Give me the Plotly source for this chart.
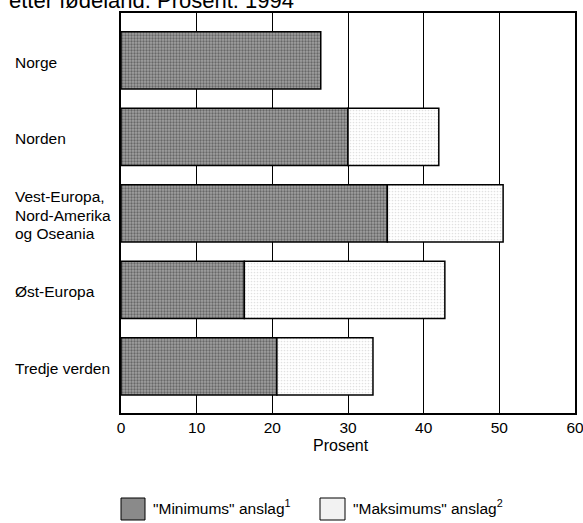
import plotly.graph_objects as go

# ---- data ----
categories = ["Norge", "Norden", "Vest-Europa,<br>Nord-Amerika<br>og Oseania", "Øst-Europa", "Tredje verden"]
min_values = [26.4, 30.0, 35.2, 16.3, 20.6]
max_values = [None, 42.0, 50.5, 42.8, 33.3]
x_ticks = [0, 10, 20, 30, 40, 50, 60]
title_text = "etter fødeland. Prosent. 1994"
x_title = "Prosent"
legend_labels = ['"Minimums" anslag<sup>1</sup>', '"Maksimums" anslag<sup>2</sup>']

REG = "Liberation Sans, Arial, sans-serif"

pos = list(range(len(categories)))
extra = [None if mx is None else mx - mn for mn, mx in zip(min_values, max_values)]

fig = go.Figure()
fig.add_trace(go.Bar(
    y=pos, x=min_values, orientation="h", width=0.75,
    marker=dict(color="#a0a0a0", line=dict(color="black", width=1.5),
                pattern=dict(shape=".", fgcolor="#2e2e2e", bgcolor="#a0a0a0", size=3, solidity=0.45)),
    showlegend=False, hoverinfo="skip",
))
fig.add_trace(go.Bar(
    y=pos, x=extra, base=min_values, orientation="h", width=0.75,
    marker=dict(color="white", line=dict(color="black", width=1.5),
                pattern=dict(shape=".", fgcolor="#c4c4c4", bgcolor="white", size=3, solidity=0.25)),
    showlegend=False, hoverinfo="skip",
))

fig.update_layout(
    width=583, height=523,
    margin=dict(l=121, r=8, t=13, b=110, autoexpand=False),
    paper_bgcolor="white", plot_bgcolor="white",
    barmode="overlay",
    font=dict(family=REG, size=16, color="black"),
)
fig.update_xaxes(
    range=[0, 60], tickvals=x_ticks, ticks="", showgrid=True, gridcolor="black", gridwidth=1,
    showline=True, mirror=True, linecolor="black", linewidth=1.5, zeroline=False, automargin=False,
    ticklabeloverflow="allow",
    tickfont=dict(family=REG, size=15.5, color="black"),
)
fig.update_yaxes(
    range=[4.61, -0.62], showticklabels=False, ticks="", showgrid=False, automargin=False,
    showline=True, mirror=True, linecolor="black", linewidth=1.5, zeroline=False,
)

# category labels (left aligned, tight line spacing)
for i, lab in enumerate(categories):
    lines = lab.split("<br>")
    n = len(lines)
    for j, ln in enumerate(lines):
        fig.add_annotation(
            x=0, xref="paper", xshift=-108, y=i, yref="y",
            yshift=-(j - (n - 1) / 2) * 18.5 - 2,
            text=ln, showarrow=False, xanchor="left", yanchor="middle",
            font=dict(family=REG, size=15.5, color="black"),
        )

# title (cut at top of page)
fig.add_annotation(
    x=0, xref="paper", xshift=-114, y=1, yref="paper", yshift=13,
    text=title_text, showarrow=False, xanchor="left", yanchor="middle",
    font=dict(family=REG, size=22, color="black"),
)

# x axis title
fig.add_annotation(
    x=(341 - 121) / 454, xref="paper", y=(413 - 445) / 400, yref="paper", text=x_title, showarrow=False,
    xanchor="center", yanchor="middle", font=dict(family=REG, size=16, color="black"),
)

# legend (manual)
fig.add_shape(type="rect", xref="paper", yref="paper", x0=0.0, x1=(145 - 121) / 454,
              y0=(413 - 520) / 400, y1=(413 - 498) / 400,
              fillcolor="#8a8a8a", line=dict(color="black", width=1))
fig.add_shape(type="rect", xref="paper", yref="paper", x0=(320 - 121) / 454, x1=(345 - 121) / 454,
              y0=(413 - 520) / 400, y1=(413 - 498) / 400, fillcolor="#f2f2f2", line=dict(color="black", width=1))
fig.add_annotation(x=(151 - 121) / 454, xref="paper", y=(413 - 507) / 400, yref="paper", text=legend_labels[0],
                   showarrow=False, xanchor="left", yanchor="middle",
                   font=dict(family=REG, size=15.5, color="black"))
fig.add_annotation(x=(351 - 121) / 454, xref="paper", y=(413 - 507) / 400, yref="paper", text=legend_labels[1],
                   showarrow=False, xanchor="left", yanchor="middle",
                   font=dict(family=REG, size=15.5, color="black"))

fig.write_html("out.html", config={"displayModeBar": False},
               post_script="document.body.style.margin='0';")
